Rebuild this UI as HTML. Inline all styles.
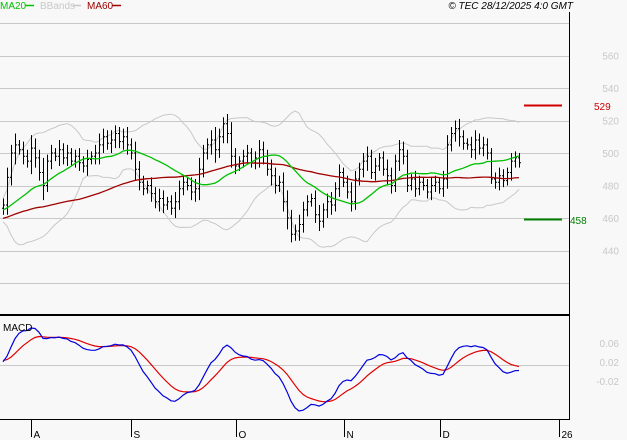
<!DOCTYPE html>
<html><head><meta charset="utf-8"><style>
html,body{margin:0;padding:0;background:#f8f8f8;}
svg{display:block;font-family:"Liberation Sans",sans-serif;}
</style></head><body>
<svg id="chart" width="627" height="440" viewBox="0 0 627 440">
<rect x="0" y="0" width="627" height="440" fill="#f8f8f8"/>
<g id="grid"></g>
<g id="bbands"></g>
<g id="bars"></g>
<g id="mas"></g>
<g id="macd"></g>
<g id="axes"></g>
<text x="0" y="9" font-size="10" fill="#00c000">MA20</text>
<line x1="25" y1="5.5" x2="34" y2="5.5" stroke="#00c000" stroke-width="1.5"/>
<text x="40" y="9" font-size="10" fill="#c8c8c8">BBands</text>
<line x1="73" y1="5.5" x2="81" y2="5.5" stroke="#c8c8c8" stroke-width="1.5"/>
<text x="87" y="9" font-size="10" fill="#a00000">MA60</text>
<line x1="112" y1="5.5" x2="121" y2="5.5" stroke="#a00000" stroke-width="1.5"/>
<text x="573" y="9" font-size="10" font-style="italic" text-anchor="end" fill="#000">© TEC 28/12/2025 4:0 GMT</text>
<line x1="524" y1="105.5" x2="562" y2="105.5" stroke="#d00000" stroke-width="2"/>
<text x="594" y="110" font-size="10" fill="#d00000">529</text>
<line x1="524" y1="219.5" x2="562" y2="219.5" stroke="#008000" stroke-width="2"/>
<text x="570" y="224" font-size="10" fill="#008000">458</text>
<text x="3" y="331" font-size="10" fill="#000">MACD</text>
</svg>
<script>
const priorCloses=[448,452,450,455,458,454,450,446,449,453,457,460,456,452,455,459,463,466,462,458,455,460,464,468,465,461,458,462,466,470,467,463,460,464,468,472,469,465,462,466];
const closes=[468,485,500,505,502,498,495,503,497,488,
480,495,500,498,502,497,500,495,498,494,
492,496,498,500,505,510,506,508,512,507,
510,505,500,490,482,478,480,475,470,472,
468,470,466,470,478,482,480,476,478,490,
500,505,508,502,510,518,512,498,492,495,
498,500,494,497,502,498,490,486,480,482,
470,460,450,452,456,465,470,472,462,458,
465,470,468,478,488,482,476,470,484,490,
495,498,488,492,497,490,486,480,495,502,
498,480,484,478,482,480,476,480,482,478,
484,505,512,515,510,506,505,502,508,503,
505,500,484,482,486,483,488,495,497,494];
const wicks=[4,6,5,7,3,5,4,8,6,5,9,4,5,3,6,4,5,3,4,5,
4,6,3,5,7,5,4,6,5,4,5,6,4,7,5,4,3,5,4,6,
5,3,4,6,5,4,3,5,6,7,5,4,6,8,5,4,6,7,5,3,
4,5,3,4,6,5,4,6,5,4,6,7,5,4,6,5,4,3,5,6,
4,5,6,4,5,3,4,6,5,4,5,6,4,5,3,4,6,5,4,6,
5,4,3,5,4,3,4,5,4,3,5,6,4,5,6,4,3,5,6,4,
5,4,3,4,5,4,3,5,4,3];
const gridPrices=[580,560,540,520,500,480,460,440,420];
const priceLabels=[560,540,520,500,480,460,440];
const macdLabels=["0.06","0.02","-0.02"];
const monthLabels=["A","S","O","N","D","26"];
const monthIndex=[7,32,58.25,85.25,109.25,139];

const NS="http://www.w3.org/2000/svg";
function mk(tag,attrs,parent){const e=document.createElementNS(NS,tag);for(const k in attrs)e.setAttribute(k,attrs[k]);parent.appendChild(e);return e;}
const X=i=>3+i*4;
const Y=p=>153-(p-500)*1.625;
const all=priorCloses.concat(closes);
const off=priorCloses.length;

const grid=document.getElementById('grid');
gridPrices.forEach(p=>{const l=mk('line',{x1:0,x2:569,y1:Math.round(Y(p))+0.5,y2:Math.round(Y(p))+0.5,stroke:'#c8c8c8','stroke-width':1},grid);

});
priceLabels.forEach(p=>{const t=mk('text',{x:619,y:Y(p)+4,'font-size':10,fill:'#c8c8c8','text-anchor':'end'},grid);t.textContent=p;

});

function sma(n,j){let s=0,c=0;for(let k=Math.max(0,j-n+1);k<=j;k++){s+=all[k];c++;}return s/c;}
function sd(n,j){const m=sma(n,j);let s=0,c=0;for(let k=Math.max(0,j-n+1);k<=j;k++){s+=(all[k]-m)**2;c++;}return Math.sqrt(s/c);}
function poly(vals,color,name,parent,w){const pts=vals.map((v,i)=>X(i).toFixed(1)+','+Y(v).toFixed(1)).join(' ');
const p=mk('polyline',{points:pts,fill:'none',stroke:color,'stroke-width':w},parent);

}
const ma20=[],ma60=[],bu=[],bl=[];
closes.forEach((c,i)=>{const j=i+off;ma20.push(sma(20,j));ma60.push(sma(60,j));const s=sd(20,j);bu.push(sma(20,j)+2*s);bl.push(sma(20,j)-2*s);});
const bb=document.getElementById('bbands');
poly(bu,'#c8c8c8','bband-upper',bb,1);
poly(bl,'#c8c8c8','bband-lower',bb,1);

const bars=document.getElementById('bars');
closes.forEach((c,i)=>{const o=all[i+off-1];const hi=Math.max(o,c)+wicks[i],lo=Math.min(o,c)-wicks[i];const x=X(i)+0.5;
const g=mk('g',{},bars);


mk('line',{x1:x,x2:x,y1:Y(hi),y2:Y(lo),stroke:'#000','stroke-width':1},g);
mk('line',{x1:x-1.5,x2:x,y1:Y(o),y2:Y(o),stroke:'#000','stroke-width':1},g);
mk('line',{x1:x,x2:x+1.5,y1:Y(c),y2:Y(c),stroke:'#000','stroke-width':1},g);});
const mas=document.getElementById('mas');
poly(ma60,'#a00000','ma60-line',mas,1.3);
poly(ma20,'#00c000','ma20-line',mas,1.3);

function ema(arr,n){const k=2/(n+1);const out=[];arr.forEach((v,i)=>out.push(i?v*k+out[i-1]*(1-k):v));return out;}
const e12=ema(all,12),e26=ema(all,26);
const macdAll=all.map((v,i)=>e12[i]-e26[i]);
const sigAll=ema(macdAll,9);
const macdV=macdAll.slice(off),sigV=sigAll.slice(off);
const mn=Math.min(...macdV,...sigV),mx=Math.max(...macdV,...sigV);
const MY=v=>411-(v-mn)/(mx-mn)*83;
const mg=document.getElementById('macd');
const zl=mk('line',{x1:0,x2:569,y1:365.5,y2:365.5,stroke:'#c8c8c8','stroke-width':1},mg);


const sl=mk('polyline',{points:sigV.map((v,i)=>X(i)+','+MY(v).toFixed(1)).join(' '),fill:'none',stroke:'#e00000','stroke-width':1.2},mg);


const ml=mk('polyline',{points:macdV.map((v,i)=>X(i)+','+MY(v).toFixed(1)).join(' '),fill:'none',stroke:'#0000e0','stroke-width':1.2},mg);


[343,362,381].forEach((y,k)=>{const t=mk('text',{x:619,y:y+4,'font-size':10,fill:'#c8c8c8','text-anchor':'end'},mg);t.textContent=macdLabels[k];

});

const ax=document.getElementById('axes');
const a1=mk('line',{x1:569.5,x2:569.5,y1:12,y2:420,stroke:'#000','stroke-width':1},ax);


const a2=mk('line',{x1:0,x2:569,y1:315,y2:315,stroke:'#000','stroke-width':2},ax);


const a3=mk('line',{x1:0,x2:570,y1:419.5,y2:419.5,stroke:'#000','stroke-width':1},ax);


monthLabels.forEach((m,k)=>{const x=Math.round(X(monthIndex[k]))+0.5;
const l=mk('line',{x1:x,x2:x,y1:419,y2:437,stroke:'#000','stroke-width':1},ax);


const t=mk('text',{x:x+2,y:438,'font-size':10,fill:'#000'},ax);t.textContent=m;

});
</script>
</body></html>
